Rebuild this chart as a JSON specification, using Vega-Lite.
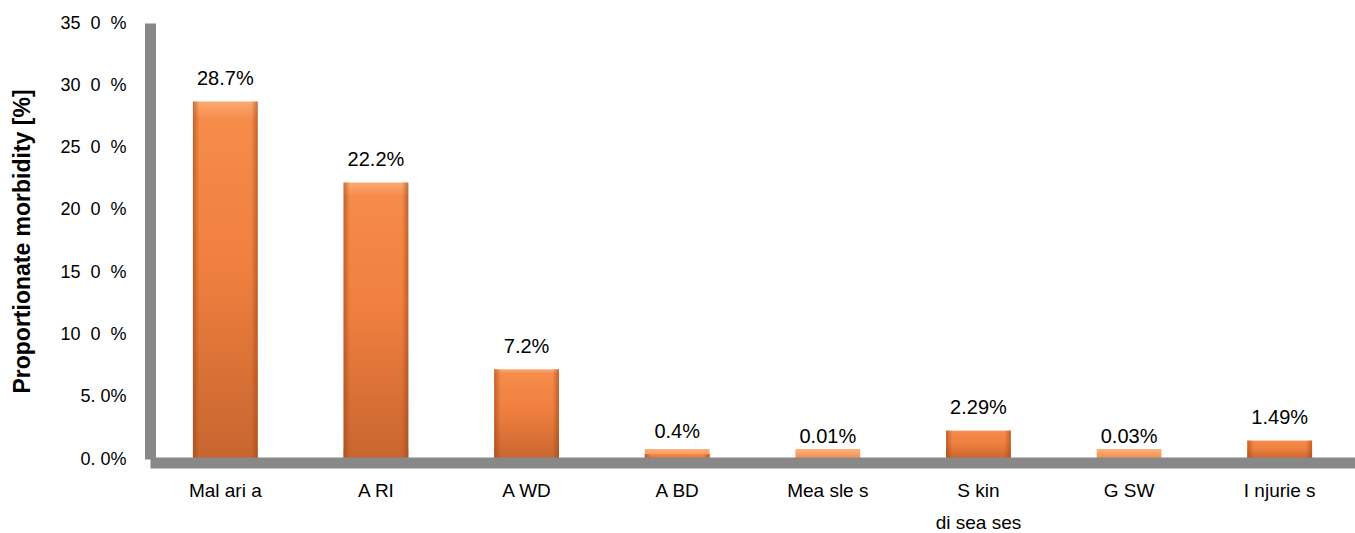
{
  "$schema": "https://vega.github.io/schema/vega-lite/v6.json",
  "autosize": "none",
  "width": 1205,
  "height": 436,
  "padding": {"left": 150, "top": 23, "right": 0, "bottom": 74},
  "background": "white",
  "config": {"view": {"stroke": null}, "font": "Liberation Sans"},
  "data": {"values": [
    {"disease": "Mal ari a", "value": 28.7, "label": "28.7%"},
    {"disease": "A RI", "value": 22.2, "label": "22.2%"},
    {"disease": "A WD", "value": 7.2, "label": "7.2%"},
    {"disease": "A BD", "value": 0.4, "label": "0.4%"},
    {"disease": "Mea sle s", "value": 0.01, "label": "0.01%"},
    {"disease": "S kin|di sea ses", "value": 2.29, "label": "2.29%"},
    {"disease": "G SW", "value": 0.03, "label": "0.03%"},
    {"disease": "I njurie s", "value": 1.49, "label": "1.49%"}
  ]},
  "encoding": {
    "x": {
      "field": "disease", "type": "nominal", "sort": null,
      "scale": {"paddingInner": 0.57, "paddingOuter": 0.285},
      "axis": {
        "title": null, "labelAngle": 0, "ticks": false, "tickSize": 0,
        "domainColor": "#888888", "domainWidth": 11, "offset": 3.5,
        "labelPadding": 19, "labelFontSize": 19, "labelColor": "#000000",
        "labelBaseline": "top", "labelLineHeight": 32,
        "labelExpr": "split(datum.label, '|')", "zindex": 1
      }
    }
  },
  "layer": [
    {
      "mark": {"type": "bar", "yOffset": -10,
        "fill": {"gradient": "linear", "x1": 0, "y1": 0, "x2": 0, "y2": 1,
          "stops": [{"offset": 0, "color": "#FBB27E"}, {"offset": 1, "color": "#F58A48"}]}},
      "encoding": {"y": {"datum": 0, "type": "quantitative"}, "y2": {"datum": 0}}
    },
    {
      "mark": {"type": "bar",
        "fill": {"gradient": "linear", "x1": 0, "y1": 0, "x2": 0, "y2": 1,
          "stops": [
            {"offset": 0, "color": "#FBAA72"},
            {"offset": 0.05, "color": "#F68B4A"},
            {"offset": 0.45, "color": "#F0803F"},
            {"offset": 1, "color": "#C8652F"}
          ]}},
      "encoding": {
        "y": {
          "field": "value", "type": "quantitative",
          "scale": {"domain": [0, 35], "nice": false},
          "axis": {
            "title": "Proportionate morbidity [%]",
            "titleFontSize": 23, "titleFontWeight": "bold", "titleColor": "#000000",
            "titleX": -128, "titleY": 218, "titleAngle": -90, "titleAlign": "center", "titleBaseline": "middle",
            "values": [0, 5, 10, 15, 20, 25, 30, 35],
            "labelExpr": "datum.value == 0 ? '0.\u00a00%' : datum.value == 5 ? '5.\u00a00%' : toString(datum.value) + '\u00a0\u00a00\u00a0\u00a0%'",
            "labelFontSize": 18, "labelColor": "#000000", "labelPadding": 24,
            "ticks": false, "tickSize": 0, "grid": false,
            "domainColor": "#888888", "domainWidth": 11
          }
        },
        "y2": {"datum": 0}
      }
    },
    {
      "mark": {"type": "bar",
        "fill": {"gradient": "linear", "x1": 0, "y1": 0, "x2": 1, "y2": 0,
          "stops": [
            {"offset": 0, "color": "rgba(150,65,20,0.55)"},
            {"offset": 0.1, "color": "rgba(150,65,20,0)"},
            {"offset": 0.9, "color": "rgba(150,65,20,0)"},
            {"offset": 1, "color": "rgba(150,65,20,0.55)"}
          ]}},
      "encoding": {"y": {"field": "value", "type": "quantitative"}, "y2": {"datum": 0}}
    },
    {
      "mark": {"type": "text", "baseline": "alphabetic", "dy": -16, "fontSize": 20, "color": "#000000"},
      "encoding": {"y": {"field": "value", "type": "quantitative"}, "text": {"field": "label"}}
    }
  ]
}
